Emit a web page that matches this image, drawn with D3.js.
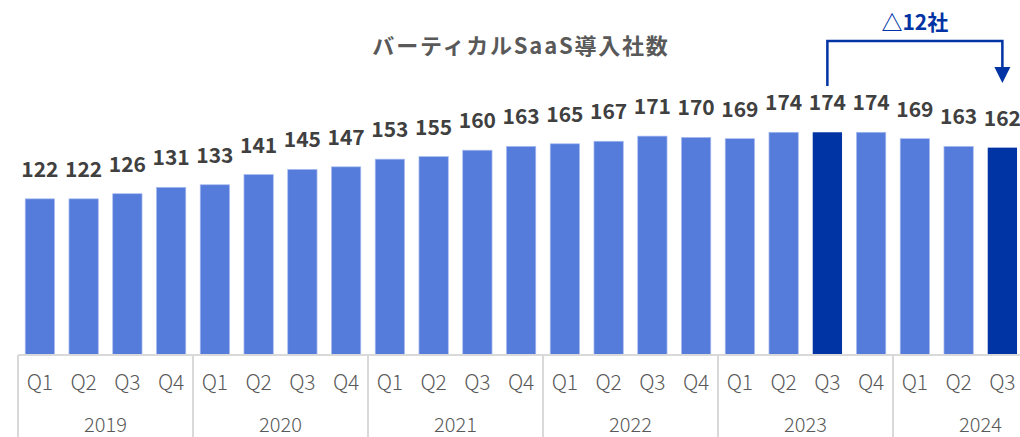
<!DOCTYPE html>
<html>
<head>
<meta charset="utf-8">
<script src="https://cdn.jsdelivr.net/npm/d3@7"></script>
<style>
  body { margin: 0; background: #fff; }
  text { font-family: "Noto Sans CJK JP", "Noto Sans", sans-serif; }
</style>
</head>
<body>
<div id="chart"></div>
<script>
// data
const years = ['2019', '2020', '2021', '2022', '2023', '2024']
const quarters = ['Q1', 'Q2', 'Q3', 'Q4']
const values = [122, 122, 126, 131, 133, 141, 145, 147, 153, 155, 160, 163,
                165, 167, 171, 170, 169, 174, 174, 174, 169, 163, 162]
const highlight = ['2023-Q3', '2024-Q3']
const title = 'バーティカルSaaS導入社数'
const note = '△12社'

const width = 1020, height = 437
const left = 18, baseY = 355

// build category keys (year-quarter) for every bar
let cats = []
for (let i = 0; i < values.length; i++) {
	cats.push(years[Math.floor(i / 4)] + '-' + quarters[i % 4])
}

const x = d3.scaleBand()
	.domain(d3.range(values.length))
	.range([left, left + 43.75 * values.length])
	.paddingInner(0.33)
	.paddingOuter(0.165)

const y = d3.scaleLinear()
	.domain([0, 200])
	.range([baseY, baseY - 256])

const svg = d3.select('#chart').append('svg')
	.attr('width', width)
	.attr('height', height)

// title
svg.append('text')
	.attr('x', 521).attr('y', 54)
	.attr('text-anchor', 'middle')
	.style('font-size', '22px')
	.style('letter-spacing', '1.8px')
	.style('font-weight', 'bold')
	.style('fill', '#595959')
	.text(title)

// bars
svg.append('g').selectAll('rect')
	.data(values)
	.enter().append('rect')
	.attr('x', (d, i) => x(i))
	.attr('y', d => y(d))
	.attr('width', x.bandwidth())
	.attr('height', d => y(0) - y(d))
	.style('fill', (d, i) => highlight.includes(cats[i]) ? '#0033a3' : '#557bdb')
	.style('stroke', (d, i) => highlight.includes(cats[i]) ? 'none' : '#a9bdf0')
	.style('stroke-width', 0.7)

// value labels
svg.append('g').selectAll('text')
	.data(values)
	.enter().append('text')
	.attr('x', (d, i) => x(i) + x.bandwidth() / 2)
	.attr('y', d => y(d) - 22)
	.attr('text-anchor', 'middle')
	.style('font-size', '21px')
	.style('font-weight', 'bold')
	.style('fill', '#404040')
	.text(d => d)

// category axis: base line, quarter labels, year labels, separators
const step = x.step()
const axis = svg.append('g')
axis.append('line')
	.attr('x1', left).attr('x2', width)
	.attr('y1', baseY).attr('y2', baseY)
	.style('stroke', '#d9d9d9').style('stroke-width', 2)

axis.selectAll('.q')
	.data(cats)
	.enter().append('text')
	.attr('class', 'q')
	.attr('x', (d, i) => x(i) + x.bandwidth() / 2)
	.attr('y', 390)
	.attr('text-anchor', 'middle')
	.style('font-size', '21px')
	.style('font-weight', 300)
	.style('fill', '#595959')
	.text(d => d.split('-')[1])

axis.selectAll('.yr')
	.data(years)
	.enter().append('text')
	.attr('class', 'yr')
	.attr('x', (d, i) => left + step * 4 * i + step * 2)
	.attr('y', 432)
	.attr('text-anchor', 'middle')
	.style('font-size', '20px')
	.style('font-weight', 300)
	.style('fill', '#595959')
	.text(d => d)

axis.selectAll('.sep')
	.data(years)
	.enter().append('line')
	.attr('class', 'sep')
	.attr('x1', (d, i) => left + step * 4 * i)
	.attr('x2', (d, i) => left + step * 4 * i)
	.attr('y1', baseY).attr('y2', height)
	.style('stroke', '#d9d9d9').style('stroke-width', 2)

// annotation bracket from 2023 Q3 to 2024 Q3
const i0 = cats.indexOf(highlight[0]), i1 = cats.indexOf(highlight[1])
const x0 = x(i0) + x.bandwidth() / 2, x1 = x(i1) + x.bandwidth() / 2
const topY = 41
svg.append('path')
	.attr('d', `M${x0},86 V${topY} H${x1} V70`)
	.style('fill', 'none')
	.style('stroke', '#0033a3')
	.style('stroke-width', 2.5)
svg.append('path')
	.attr('d', `M${x1 - 8},67 L${x1 + 8},67 L${x1},83 Z`)
	.style('fill', '#0033a3')
svg.append('text')
	.attr('x', (x0 + x1) / 2).attr('y', 30)
	.attr('text-anchor', 'middle')
	.style('font-size', '21px')
	.style('font-weight', 'bold')
	.style('fill', '#0033a3')
	.text(note)
</script>
</body>
</html>
